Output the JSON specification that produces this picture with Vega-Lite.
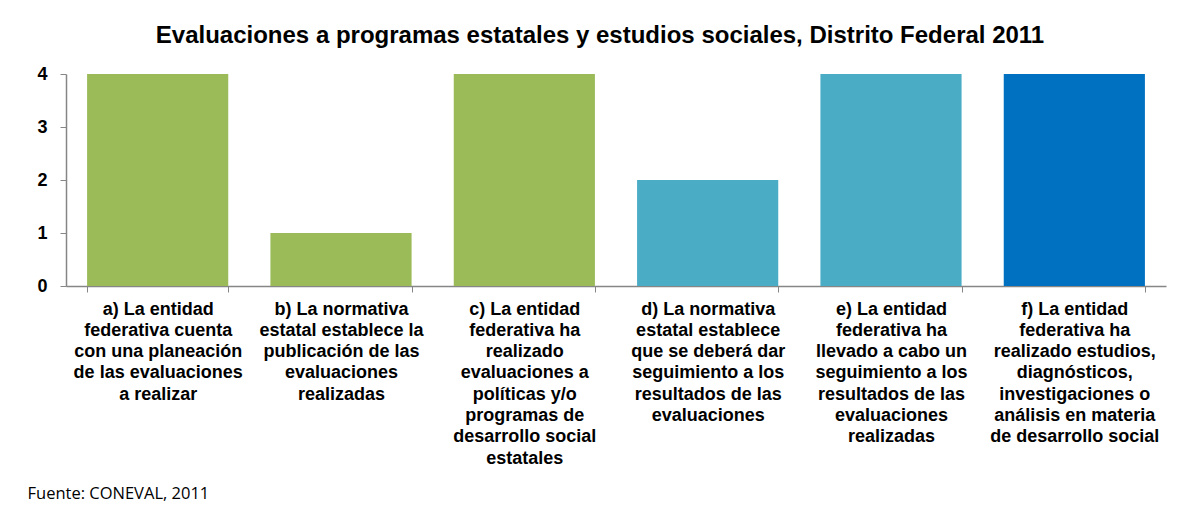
{
  "$schema": "https://vega.github.io/schema/vega-lite/v6.json",
  "width": 1100,
  "height": 212,
  "autosize": "none",
  "padding": {"left": 66, "top": 74, "right": 11, "bottom": 223},
  "background": "white",
  "title": {
    "text": "Evaluaciones a programas estatales y estudios sociales, Distrito Federal 2011",
    "font": "Liberation Sans",
    "fontSize": 24,
    "fontWeight": "bold",
    "color": "#000000",
    "anchor": "middle",
    "dx": -16,
    "offset": 17
  },
  "data": {
    "values": [
      {"indicador": "a) La entidad\nfederativa cuenta\ncon una planeación\nde las evaluaciones\na realizar", "valor": 4, "grupo": "1"},
      {"indicador": "b) La normativa\nestatal establece la\npublicación de las\nevaluaciones\nrealizadas", "valor": 1, "grupo": "1"},
      {"indicador": "c) La entidad\nfederativa ha\nrealizado\nevaluaciones a\npolíticas y/o\nprogramas de\ndesarrollo social\nestatales", "valor": 4, "grupo": "1"},
      {"indicador": "d) La normativa\nestatal establece\nque se deberá dar\nseguimiento a los\nresultados de las\nevaluaciones", "valor": 2, "grupo": "2"},
      {"indicador": "e) La entidad\nfederativa ha\nllevado a cabo un\nseguimiento a los\nresultados de las\nevaluaciones\nrealizadas", "valor": 4, "grupo": "2"},
      {"indicador": "f) La entidad\nfederativa ha\nrealizado estudios,\ndiagnósticos,\ninvestigaciones o\nanálisis en materia\nde desarrollo social", "valor": 4, "grupo": "3"}
    ]
  },
  "mark": {"type": "bar"},
  "encoding": {
    "x": {
      "field": "indicador",
      "type": "nominal",
      "sort": null,
      "scale": {"paddingInner": 0.23, "paddingOuter": 0.115},
      "axis": {
        "title": "Fuente: CONEVAL, 2011",
        "titleFont": "Open Sans",
        "titleFontSize": 16.5,
        "titleFontWeight": "normal",
        "titleColor": "#000000",
        "titleAnchor": null,
        "titleAlign": "left",
        "titleBaseline": "middle",
        "titleX": -39,
        "titleY": 207,
        "labelAngle": 0,
        "labelExpr": "split(datum.label, '\\n')",
        "labelFont": "Liberation Sans",
        "labelFontSize": 18,
        "labelFontWeight": "bold",
        "labelColor": "#000000",
        "labelLineHeight": 21.3,
        "labelLimit": 0,
        "labelPadding": 8,
        "labelBaseline": "top",
        "tickBand": "extent",
        "tickSize": 6,
        "tickColor": "#868686",
        "domainColor": "#868686",
        "domainWidth": 1.5,
        "grid": false
      }
    },
    "y": {
      "field": "valor",
      "type": "quantitative",
      "scale": {"domain": [0, 4], "nice": false},
      "axis": {
        "title": null,
        "values": [0, 1, 2, 3, 4],
        "format": "d",
        "labelFont": "Liberation Sans",
        "labelFontSize": 18,
        "labelFontWeight": "bold",
        "labelColor": "#000000",
        "labelPadding": 13,
        "tickSize": 6,
        "tickColor": "#868686",
        "domainColor": "#868686",
        "domainWidth": 1.5,
        "grid": false
      }
    },
    "color": {
      "field": "grupo",
      "type": "nominal",
      "scale": {"domain": ["1", "2", "3"], "range": ["#9BBB59", "#4BACC6", "#0070C0"]},
      "legend": null
    }
  },
  "config": {
    "view": {"stroke": null}
  }
}
